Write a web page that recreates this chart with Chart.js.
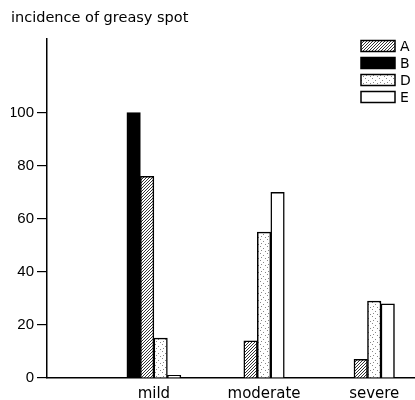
<!DOCTYPE html>
<html>
<head>
<meta charset="utf-8">
<script src="https://cdn.jsdelivr.net/npm/chart.js@4.4.0/dist/chart.umd.min.js"></script>
<style>
  html, body { margin: 0; padding: 0; background: #fff; }
  #wrap { width: 415px; height: 400px; }
</style>
</head>
<body>
<div id="wrap"><canvas id="c" width="415" height="400"></canvas></div>
<script>
// ---- data ----
const categories = ['mild', 'moderate', 'severe'];
const seriesA = [76, 14, 7];
const seriesB = [100, null, null];
const seriesD = [15, 55, 29];
const seriesE = [1, 70, 28];
const yTicks = [0, 20, 40, 60, 80, 100];
const legendOrder = ['A', 'B', 'D', 'E'];
const titleText = 'incidence of greasy spot';

// ---- patterns ----
function hatchPattern() {
  const c = document.createElement('canvas');
  c.width = 3; c.height = 3;
  const g = c.getContext('2d');
  g.fillStyle = '#fff'; g.fillRect(0, 0, 3, 3);
  g.strokeStyle = '#333'; g.lineWidth = 1;
  g.beginPath();
  g.moveTo(0, 3); g.lineTo(3, 0);
  g.moveTo(-1, 1); g.lineTo(1, -1);
  g.moveTo(2, 4); g.lineTo(4, 2);
  g.stroke();
  return g.createPattern(c, 'repeat');
}
function dotPattern() {
  const c = document.createElement('canvas');
  c.width = 7; c.height = 7;
  const g = c.getContext('2d');
  g.fillStyle = '#fff'; g.fillRect(0, 0, 7, 7);
  g.fillStyle = '#888';
  g.fillRect(1, 1, 1, 1);
  g.fillRect(4, 3, 1, 1);
  g.fillRect(2, 5, 1, 1);
  g.fillRect(6, 6, 1, 1);
  return g.createPattern(c, 'repeat');
}

const toPts = arr => arr.map((v, i) => ({ x: i + 1, y: v }));

const datasets = [
  { label: 'B', data: toPts(seriesB), backgroundColor: '#000', borderColor: '#000', borderWidth: 1.5 },
  { label: 'A', data: toPts(seriesA), backgroundColor: hatchPattern(), borderColor: '#000', borderWidth: 1.5 },
  { label: 'D', data: toPts(seriesD), backgroundColor: dotPattern(), borderColor: '#000', borderWidth: 1.5 },
  { label: 'E', data: toPts(seriesE), backgroundColor: '#fff', borderColor: '#000', borderWidth: 1.5 }
];

const legendPlugin = {
  id: 'customLegend',
  afterDraw(chart) {
    const ctx = chart.ctx;
    ctx.save();
    ctx.font = '14px "DejaVu Sans", sans-serif';
    ctx.textBaseline = 'middle';
    ctx.fillStyle = '#000';
    legendOrder.forEach((lab, i) => {
      const ds = chart.data.datasets.find(d => d.label === lab);
      const y = 46 + i * 17;
      ctx.fillStyle = ds.backgroundColor;
      ctx.fillRect(361, y - 5.5, 34, 11);
      ctx.strokeStyle = '#000';
      ctx.lineWidth = 1.5;
      ctx.strokeRect(361, y - 5.5, 34, 11);
      ctx.fillStyle = '#000';
      ctx.fillText(lab, 400, y + 1);
    });
    ctx.restore();
  }
};

new Chart(document.getElementById('c'), {
  type: 'bar',
  data: { datasets },
  plugins: [legendPlugin],
  options: {
    responsive: false,
    animation: false,
    layout: { padding: { left: 11, right: 0, top: 0, bottom: 0 } },
    datasets: { bar: { skipNull: true, barThickness: 13.5, grouped: true } },
    plugins: {
      legend: { display: false },
      tooltip: { enabled: false },
      title: {
        display: true,
        text: titleText,
        align: 'start',
        color: '#000',
        font: { family: '"DejaVu Sans", sans-serif', size: 14.5, weight: 'normal' },
        padding: { top: 10, bottom: 11 }
      }
    },
    scales: {
      x: {
        type: 'linear',
        offset: false,
        min: 0.03,
        max: 3.37,
        afterBuildTicks(scale) { scale.ticks = categories.map((c, i) => ({ value: i + 1 })); },
        afterFit(scale) { scale.height = 22; },
        ticks: {
          color: '#000',
          padding: 7,
          font: { family: '"DejaVu Sans", sans-serif', size: 15 },
          callback: v => categories[v - 1] || ''
        },
        grid: { display: false, drawTicks: false, offset: false },
        border: { display: true, color: '#000', width: 1.5 }
      },
      y: {
        min: 0,
        max: 128,
        afterBuildTicks(scale) { scale.ticks = yTicks.map(v => ({ value: v })); },
        afterFit(scale) { scale.width = 36; },
        ticks: {
          color: '#000',
          padding: 3,
          font: { family: '"Liberation Sans", sans-serif', size: 15 }
        },
        grid: { display: true, drawOnChartArea: false, drawTicks: true, tickLength: 10, color: '#000', lineWidth: 1.2 },
        border: { display: true, color: '#000', width: 1.5 }
      }
    }
  }
});
</script>
</body>
</html>
